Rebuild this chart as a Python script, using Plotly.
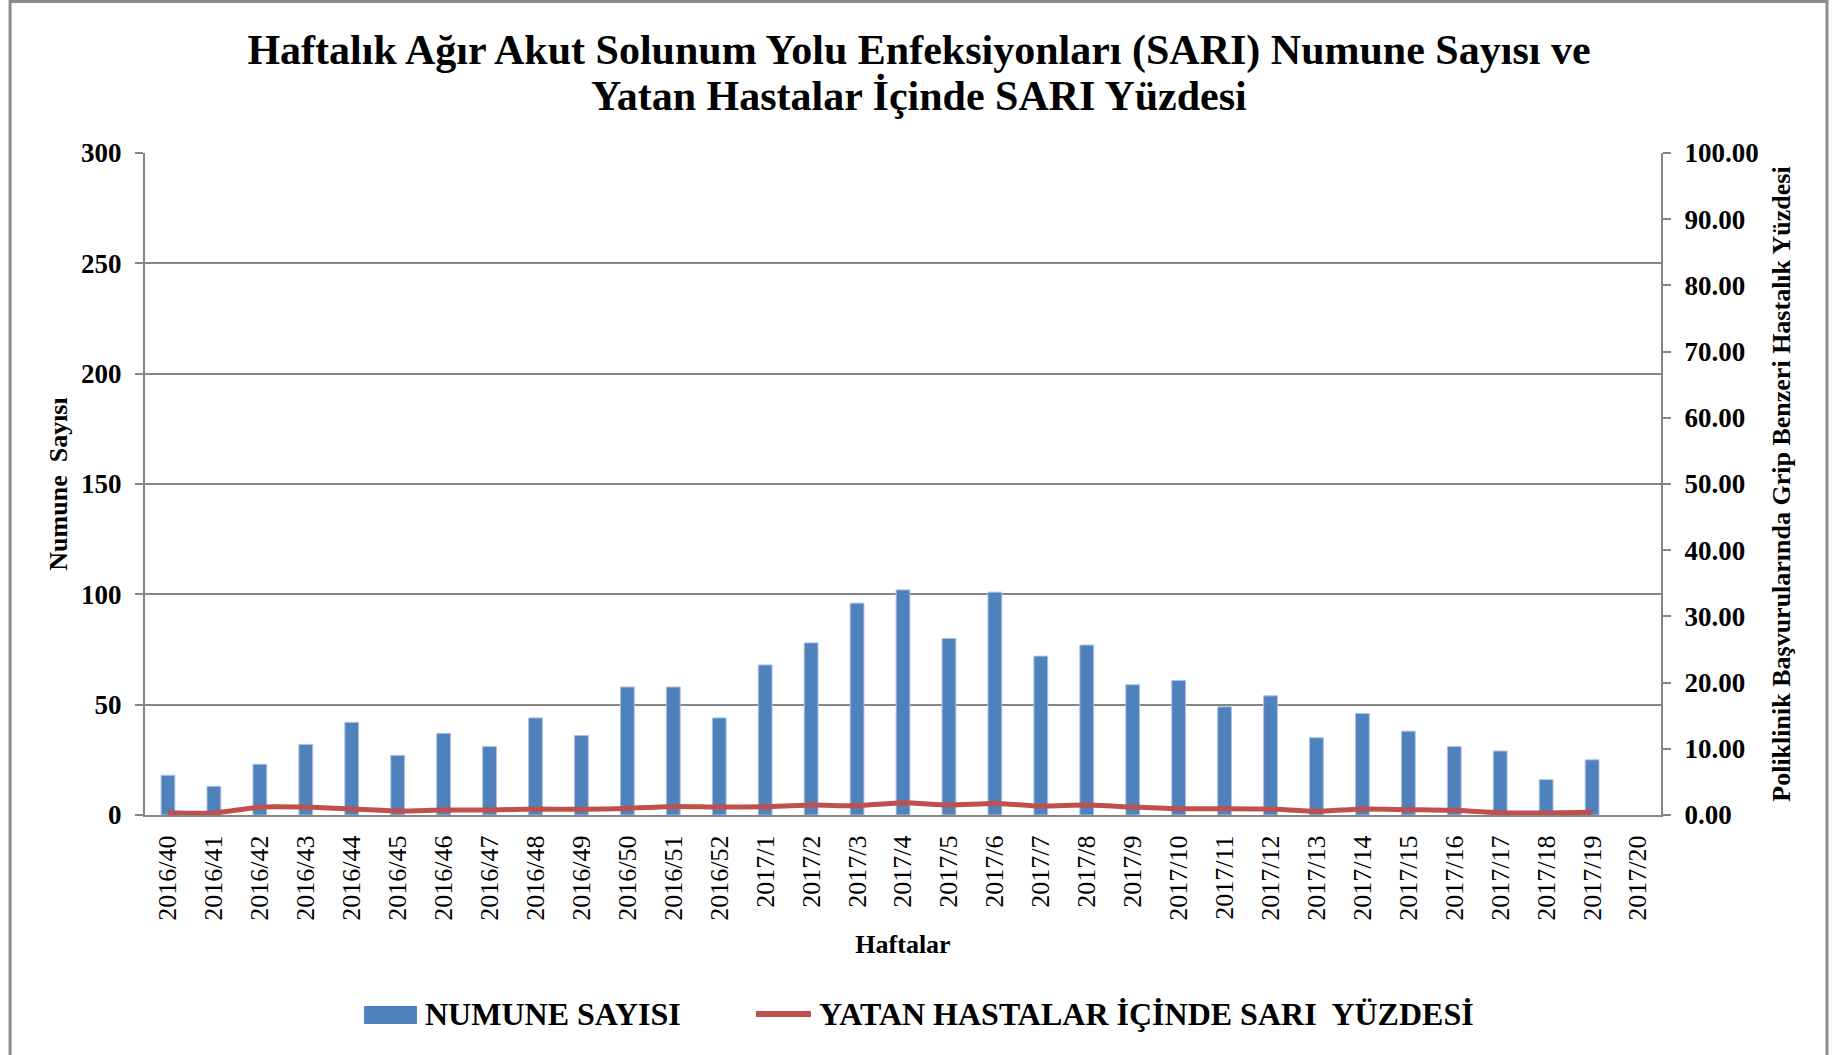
import plotly.graph_objects as go

weeks = ["2016/40", "2016/41", "2016/42", "2016/43", "2016/44", "2016/45", "2016/46",
         "2016/47", "2016/48", "2016/49", "2016/50", "2016/51", "2016/52",
         "2017/1", "2017/2", "2017/3", "2017/4", "2017/5", "2017/6", "2017/7",
         "2017/8", "2017/9", "2017/10", "2017/11", "2017/12", "2017/13", "2017/14",
         "2017/15", "2017/16", "2017/17", "2017/18", "2017/19", "2017/20"]

numune_sayisi = [18, 13, 23, 32, 42, 27, 37, 31, 44, 36, 58, 58, 44,
                 68, 78, 96, 102, 80, 101, 72, 77, 59, 61, 49, 54, 35, 46,
                 38, 31, 29, 16, 25, None]

sari_yuzdesi = [0.35, 0.3, 1.2, 1.2, 0.9, 0.6, 0.75, 0.75, 0.9, 0.85, 1.0, 1.3, 1.2,
                1.25, 1.5, 1.4, 1.85, 1.5, 1.75, 1.35, 1.5, 1.2, 0.95, 0.95, 0.9,
                0.55, 0.9, 0.8, 0.7, 0.35, 0.3, 0.4, None]

series_names = ["NUMUNE SAYISI", "YATAN HASTALAR İÇİNDE SARI  YÜZDESİ"]
title_lines = ["Haftalık Ağır Akut Solunum Yolu Enfeksiyonları (SARI) Numune Sayısı ve",
               "Yatan Hastalar İçinde SARI Yüzdesi"]

SERIF = "Liberation Serif, Times New Roman, serif"
GRID = "#868686"
BLUE = "#4F81BD"
RED = "#C0504D"

fig = go.Figure()
fig.add_trace(go.Bar(
    x=weeks, y=numune_sayisi, name=series_names[0],
    marker=dict(color=BLUE, line=dict(color="#A9C1E0", width=1)),
    width=0.3, yaxis="y", showlegend=False,
))
fig.add_trace(go.Scatter(
    x=weeks, y=sari_yuzdesi, name=series_names[1],
    mode="lines", line=dict(color=RED, width=5, shape="spline", smoothing=0.6),
    yaxis="y2", showlegend=False,
))

# outer chart border (top, left, right)
fig.add_shape(type="path", xref="paper", yref="paper",
              path="M -0.089 -0.40 L -0.089 1.2289 L 1.1095 1.2289 L 1.1095 -0.40",
              line=dict(color="#8C8C8C", width=3))

# legend keys (drawn manually to match the original's large keys)
fig.add_shape(type="rect", xref="paper", yref="paper",
              x0=0.1445, x1=0.1794, y0=-0.3157, y1=-0.2885,
              fillcolor=BLUE, line=dict(width=0))
fig.add_shape(type="line", xref="paper", yref="paper",
              x0=0.4030, x1=0.4393, y0=-0.3006, y1=-0.3006,
              line=dict(color=RED, width=6))
legend_font = dict(family=SERIF, size=32, color="black", weight="bold")
fig.add_annotation(text=series_names[0], xref="paper", yref="paper", x=0.1834, y=-0.3006,
                   xanchor="left", yanchor="middle", showarrow=False, font=legend_font)
fig.add_annotation(text=series_names[1], xref="paper", yref="paper", x=0.4433, y=-0.3006,
                   xanchor="left", yanchor="middle", showarrow=False, font=legend_font)

title_font = dict(family=SERIF, size=42, color="black", weight="bold")
fig.add_annotation(text=title_lines[1], xref="paper", yref="paper",
                   x=(919 - 145) / 1516, y=(815 - 96) / 662,
                   xanchor="center", yanchor="middle", showarrow=False, font=title_font)

fig.update_layout(
    width=1843, height=1055,
    margin=dict(l=145, r=182, t=153, b=240),
    paper_bgcolor="white", plot_bgcolor="white",
    title=dict(
        text=title_lines[0],
        x=919 / 1843, xanchor="center", y=1 - 49 / 1055, yanchor="middle", yref="container",
        font=title_font,
    ),
    xaxis=dict(
        type="category", tickangle=-90, showgrid=False,
        showline=True, linecolor=GRID, linewidth=2, ticks="",
        tickfont=dict(family=SERIF, size=26, color="black"),
        ticklabelstandoff=8,
        title=dict(text="Haftalar", font=dict(family=SERIF, size=26, color="black", weight="bold"),
                   standoff=15),
    ),
    yaxis=dict(
        range=[0, 300], dtick=50, showgrid=True, gridcolor=GRID, gridwidth=2,
        showline=True, linecolor=GRID, linewidth=2, ticks="outside", ticklen=8,
        tickcolor=GRID, tickwidth=2, zeroline=False,
        tickfont=dict(family=SERIF, size=27, color="black", weight="bold"),
        ticklabelstandoff=8,
        title=dict(text="Numune  Sayısı", font=dict(family=SERIF, size=26, color="black", weight="bold"),
                   standoff=6),
    ),
    yaxis2=dict(
        range=[0, 100], dtick=10, tickformat=".2f", overlaying="y", side="right",
        showgrid=False, showline=True, linecolor=GRID, linewidth=2, ticks="outside",
        ticklen=8, tickcolor=GRID, tickwidth=2, zeroline=False,
        tickfont=dict(family=SERIF, size=27, color="black", weight="bold"),
        ticklabelstandoff=8,
        title=dict(text="Poliklinik Başvurularında Grip Benzeri Hastalık Yüzdesi",
                   font=dict(family=SERIF, size=26, color="black", weight="bold"), standoff=14),
    ),
    showlegend=False,
)

fig.write_html("out.html", config={"displayModeBar": False},
               post_script="document.body.style.margin='0';")
